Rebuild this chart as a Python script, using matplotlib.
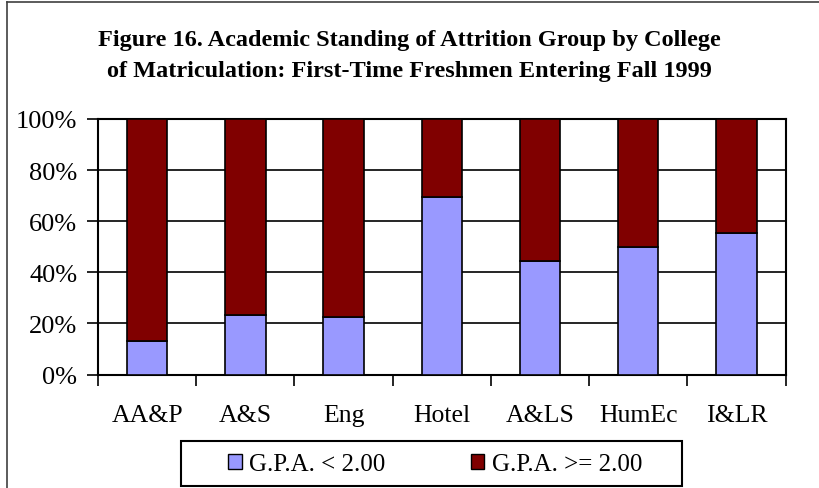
import numpy as np
import matplotlib
matplotlib.use('Agg')
import matplotlib.pyplot as plt
from matplotlib.patches import Patch, Rectangle
from matplotlib.lines import Line2D

# --- Data ---
colleges = ['AA&P', 'A&S', 'Eng', 'Hotel', 'A&LS', 'HumEc', 'I&LR']
gpa_low = [13.0, 23.2, 22.4, 69.4, 44.3, 49.8, 55.4]      # G.P.A. < 2.00
gpa_high = [100 - v for v in gpa_low]                     # G.P.A. >= 2.00
y_ticks = [0, 20, 40, 60, 80, 100]

TITLE = ('Figure 16. Academic Standing of Attrition Group by College\n'
         'of Matriculation: First-Time Freshmen Entering Fall 1999')
LOW_COLOR = '#9999ff'
HIGH_COLOR = '#800000'

plt.rcParams['font.family'] = ['Liberation Serif', 'DejaVu Serif']

W, H = 819, 489
fig = plt.figure(figsize=(W / 100, H / 100), dpi=100)
ax = fig.add_axes([98 / W, 1 - 375.5 / H, (785.7 - 98) / W, (375.5 - 120) / H])

x = np.arange(len(colleges))
ax.bar(x, gpa_low, width=0.41, color=LOW_COLOR, edgecolor='black', linewidth=1.2, zorder=3)
ax.bar(x, gpa_high, bottom=gpa_low, width=0.41, color=HIGH_COLOR, edgecolor='black',
       linewidth=1.2, zorder=3)

ax.set_xlim(-0.5, len(colleges) - 0.5)
ax.set_ylim(0, 100)
ax.set_yticks(y_ticks)
ax.set_yticklabels([f'{v}%' for v in y_ticks], fontsize=19)
ax.grid(axis='y', color='black', linewidth=1.2, zorder=0)

# category labels centred, ticks on the boundaries
ax.set_xticks(x)
ax.set_xticklabels(colleges, fontsize=18.5)
ax.tick_params(axis='x', which='major', length=0, pad=21)
ax.set_xticks(np.arange(-0.5, len(colleges)), minor=True)
ax.tick_params(axis='x', which='minor', length=8, width=1.2, direction='out')
ax.tick_params(axis='y', length=8, width=1.2, direction='out', pad=7)
for s in ax.spines.values():
    s.set_linewidth(1.5)

fig.text(0.5, 1 - 56 / H, TITLE, ha='center', va='center', fontsize=17.5,
         fontweight='bold', linespacing=1.6)

# outer chart frame (only left and top edges are visible)
fig.add_artist(Line2D([7 / W, 7 / W], [0, 1 - 3 / H], color='#404040', lw=1.2))
fig.add_artist(Line2D([7 / W, 1], [1 - 3 / H, 1 - 3 / H], color='#404040', lw=1.2))

# legend box
fig.add_artist(Rectangle((181 / W, 1 - 487 / H), (682 - 181) / W, (487 - 442) / H,
                         transform=fig.transFigure, facecolor='white',
                         edgecolor='black', linewidth=1.5))
handles = [Patch(facecolor=LOW_COLOR, edgecolor='black', linewidth=1, label='G.P.A. < 2.00'),
           Patch(facecolor=HIGH_COLOR, edgecolor='black', linewidth=1, label='G.P.A. >= 2.00')]
leg = fig.legend(handles=handles, ncol=2, loc='center left',
                 bbox_to_anchor=(228 / W, 1 - 465 / H), fontsize=18,
                 frameon=False, handlelength=0.55, handleheight=0.55,
                 handletextpad=0.3, columnspacing=3.4, borderpad=0, borderaxespad=0)

fig.savefig('out.png', dpi=100)
